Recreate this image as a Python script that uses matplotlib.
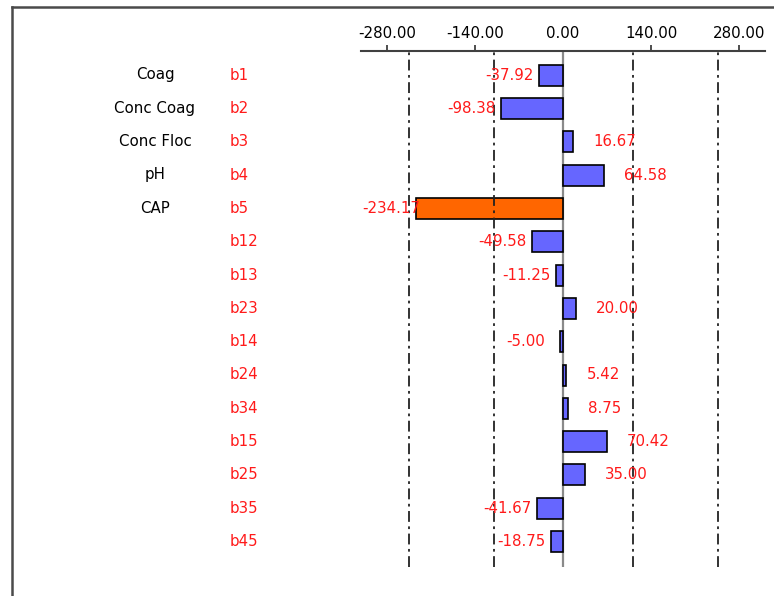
import matplotlib
matplotlib.use("Agg")
import matplotlib.pyplot as plt
import matplotlib.transforms as mtransforms
from matplotlib.lines import Line2D

factor_names = ["Coag", "Conc Coag", "Conc Floc", "pH", "CAP"]
coef_labels = ["b1", "b2", "b3", "b4", "b5", "b12", "b13", "b23", "b14",
               "b24", "b34", "b15", "b25", "b35", "b45"]
coef_values = [-37.92, -98.38, 16.67, 64.58, -234.17, -49.58, -11.25, 20.00,
               -5.00, 5.42, 8.75, 70.42, 35.00, -41.67, -18.75]
bar_colors = ["#6666FF"] * 4 + ["#FF6600"] + ["#6666FF"] * 10
tick_values = [-280, -140, 0, 140, 280]
ref_lines = [-245, -110, 112, 246]

W, H = 774, 596
fig = plt.figure(figsize=(W / 100, H / 100), dpi=100)
fig.patch.set_facecolor("white")

# axes placement in pixels
x0, x1 = 361, 765
ytop, ybot = 51, 567
ax = fig.add_axes([x0 / W, (H - ybot) / H, (x1 - x0) / W, (ybot - ytop) / H])
ax.set_xlim(-321.5, 321.5)
n = len(coef_labels)
rows = list(range(n))
ax.set_ylim(14.76, -0.72)

FS = 10.8
red = "#FF1A1A"

# zero line
ax.axvline(0, color="#8a8a8a", lw=1.6, zorder=1)

ax.barh(rows, coef_values, height=0.63, color=bar_colors, edgecolor="black",
        linewidth=1.2, zorder=2)

for xv in ref_lines:
    ax.axvline(xv, color="#222222", lw=1.3, linestyle=(0, (6, 2.5, 1.5, 2.5)), zorder=3)

for i, v in enumerate(coef_values):
    off = 20 if v > 0 else -54
    ax.annotate(f"{v:.2f}", xy=(v, i), xytext=(off, 0), textcoords="offset pixels",
                ha="left", va="center", color=red, fontsize=FS, zorder=4)

# left labels
tr = mtransforms.blended_transform_factory(fig.transFigure, ax.transData)
for i, name in enumerate(factor_names):
    fig.text(155 / W, i, name, transform=tr, ha="center", va="center",
             fontsize=FS, color="black")
for i, lab in enumerate(coef_labels):
    fig.text(230 / W, i, lab, transform=tr, ha="left", va="center",
             fontsize=FS, color=red)

# axis styling
for s in ["left", "right", "bottom"]:
    ax.spines[s].set_visible(False)
ax.spines["top"].set_color("#404040")
ax.spines["top"].set_linewidth(1.5)
ax.xaxis.set_ticks_position("top")
ax.xaxis.set_label_position("top")
ax.set_xticks(tick_values)
ax.set_xticklabels([f"{t:.2f}" for t in tick_values], fontsize=FS)
ax.tick_params(axis="x", direction="out", length=4, width=1.3, color="#404040", pad=3)
for t, tick in zip(tick_values, ax.xaxis.get_major_ticks()):
    if t == 0:
        tick.tick2line.set_visible(False)
ax.set_yticks([])
ax.patch.set_alpha(0)

# outer frame lines
fig.add_artist(Line2D([12 / W, 12 / W], [0, (H - 7) / H], transform=fig.transFigure,
                      color="#4a4a4a", lw=1.8))
fig.add_artist(Line2D([12 / W, 1], [(H - 7) / H, (H - 7) / H], transform=fig.transFigure,
                      color="#4a4a4a", lw=1.8))

fig.savefig("out.png", dpi=100)
